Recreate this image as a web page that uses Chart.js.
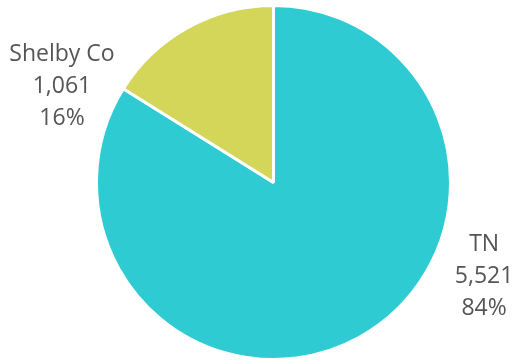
<!DOCTYPE html>
<html>
<head>
<meta charset="utf-8">
<script src="https://cdn.jsdelivr.net/npm/chart.js@4/dist/chart.umd.min.js"></script>
<style>
  html, body { margin: 0; padding: 0; background: #ffffff; }
  #wrap { width: 518px; height: 361px; position: relative; }
</style>
</head>
<body>
<div id="wrap"><canvas id="c"></canvas></div>
<script>
// Slice data
const categories = ['TN', 'Shelby Co'];
const counts = [5521, 1061];
const percentLabels = ['84%', '16%'];
const sliceColors = ['#2ECBD3', '#D4D65A'];

// Label placement, as multiples of the pie radius from its centre
const labelOffsets = [[1.19, 0.53], [-1.195, -0.54]];

const outsideLabels = {
  id: 'outsideLabels',
  afterDatasetsDraw(chart) {
    const ctx = chart.ctx;
    const meta = chart.getDatasetMeta(0);
    ctx.save();
    ctx.font = '23px "Open Sans"';
    ctx.fillStyle = '#555555';
    ctx.textAlign = 'center';
    ctx.textBaseline = 'middle';
    const lineH = 32;
    meta.data.forEach((arc, i) => {
      const r = arc.outerRadius;
      const cx = arc.x + labelOffsets[i][0] * r;
      const cy = arc.y + labelOffsets[i][1] * r;
      const lines = [categories[i], counts[i].toLocaleString('en-US'), percentLabels[i]];
      lines.forEach((t, k) => {
        ctx.fillText(t, cx, cy + (k - 1) * lineH);
      });
    });
    ctx.restore();
  }
};

new Chart(document.getElementById('c'), {
  type: 'pie',
  data: {
    labels: categories,
    datasets: [{
      data: counts,
      backgroundColor: sliceColors,
      borderColor: '#ffffff',
      borderWidth: 3
    }]
  },
  options: {
    responsive: true,
    maintainAspectRatio: false,
    animation: false,
    layout: { padding: { left: 94, right: 65, top: 4, bottom: -1 } },
    plugins: {
      legend: { display: false },
      tooltip: { enabled: false }
    }
  },
  plugins: [outsideLabels]
});
</script>
</body>
</html>
